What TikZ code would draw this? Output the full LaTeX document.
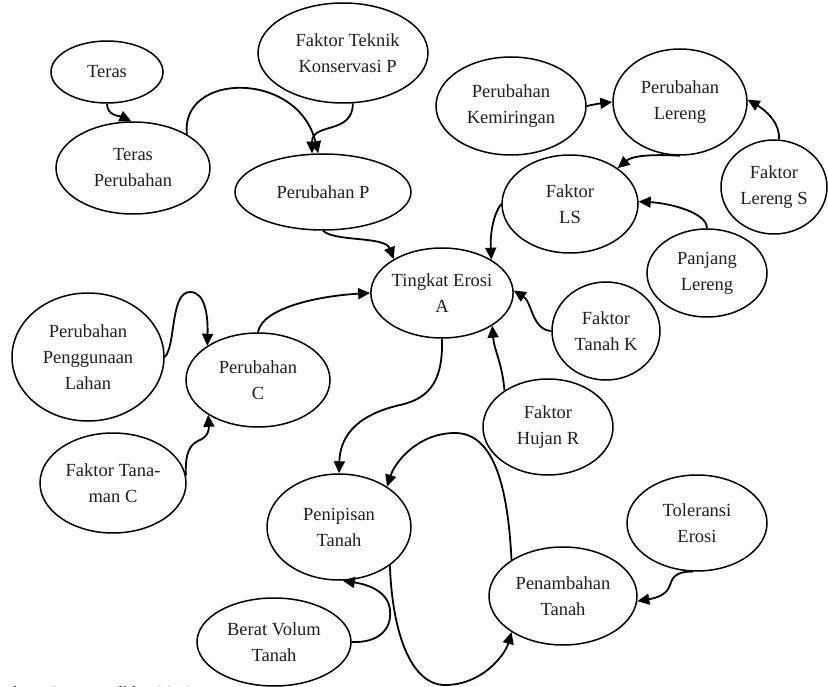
\documentclass[tikz,border=0pt]{standalone}
\usepackage{fontspec}
\setmainfont{Liberation Serif}
\usetikzlibrary{shapes.geometric,arrows.meta}
\tikzset{
  el/.style={ellipse, draw, line width=1.5pt, inner sep=0pt, align=center,
    font=\fontsize{18.5}{26}\selectfont, text=black!88},
  conn/.style={line width=1.8pt, -{Triangle[length=12pt,width=11pt]}},
}
\begin{document}
\begin{tikzpicture}[x=1pt,y=-1pt]
\useasboundingbox (0,0) rectangle (828,687);
% nodes
\node[el, minimum width=112pt, minimum height=62pt] (teras) at (107,72) {Teras};
\node[el, minimum width=154pt, minimum height=92pt] (tp) at (133,168) {Teras\\Perubahan};
\node[el, minimum width=170pt, minimum height=100pt] (ftkp) at (343,53) {\ \ Faktor Teknik\\\ \ Konservasi P};
\node[el, minimum width=176pt, minimum height=76pt] (pp) at (323,192) {Perubahan P};
\node[el, minimum width=150pt, minimum height=98pt] (pk) at (511,106) {Perubahan\\Kemiringan};
\node[el, minimum width=134pt, minimum height=106pt] (plr) at (680,102) {Perubahan\\Lereng};
\node[el, minimum width=136pt, minimum height=98pt] (fls) at (570,204) {Faktor\\LS};
\node[el, minimum width=106pt, minimum height=94pt] (flrs) at (774,187) {Faktor\\Lereng S};
\node[el, minimum width=120pt, minimum height=88pt] (pjl) at (707,273) {Panjang\\Lereng};
\node[el, minimum width=140pt, minimum height=90pt] (te) at (442,293) {Tingkat Erosi\\A};
\node[el, minimum width=108pt, minimum height=98pt] (ftk) at (606,331) {Faktor\\Tanah K};
\node[el, minimum width=130pt, minimum height=96pt] (fhr) at (548,427) {Faktor\\Hujan R};
\node[el, minimum width=152pt, minimum height=128pt] (ppl) at (88,357) {Perubahan\\Penggunaan\\Lahan};
\node[el, minimum width=144pt, minimum height=94pt] (pc) at (258,380) {Perubahan\\C};
\node[el, minimum width=146pt, minimum height=100pt] (ftc) at (113,483) {Faktor Tana-\\man C};
\node[el, minimum width=144pt, minimum height=106pt] (pt) at (339,527) {Penipisan\\Tanah};
\node[el, minimum width=140pt, minimum height=96pt] (tole) at (697,523) {Toleransi\\Erosi};
\node[el, minimum width=148pt, minimum height=98pt] (pnt) at (563,596) {Penambahan\\Tanah};
\node[el, minimum width=154pt, minimum height=88pt] (bvt) at (274,642) {Berat Volum\\Tanah};
% caption (cut off at the bottom edge, as in the reference)
\node[anchor=base west, font=\fontsize{18.5}{22}\selectfont, text=black!88] (cap) at (-24,699) {Sumber: Suryana dkk., 2016};
% connectors
\draw[conn] (teras.270) .. controls (107,116) and (120,116) .. (tp.92);
\draw[conn] (tp.32) .. controls (180,72) and (298,70) .. (pp.97);
\draw[conn] (ftkp.-79) .. controls (353,135) and (312,122) .. (pp.106);
\draw[conn] (pp.270) .. controls (335,242) and (385,236) .. (te.145);
\draw[conn] (fls.180) .. controls (494,213) and (490,232) .. (te.34);
\draw[conn] (pk.0) .. controls (596,104) and (603,103) .. (plr.180);
\draw[conn] (plr.270) .. controls (650,154) and (632,156) .. (fls.37);
\draw[conn] (flrs.84) .. controls (780,122) and (765,110) .. (plr.2);
\draw[conn] (pjl.90) .. controls (707,212) and (668,203) .. (fls.2);
\draw[conn] (ftk.180) .. controls (532,330) and (532,302) .. (te.2);
\draw[conn] (fhr.140) .. controls (502,362) and (494,350) .. (te.-33);
\draw[conn] (pc.90) .. controls (262,308) and (318,296) .. (te.180);
\draw[conn] (ppl.0) .. controls (176,346) and (170,292) .. (190,292)
  .. controls (206,292) and (208,318) .. (pc.146);
\draw[conn] (ftc.6) .. controls (185,452) and (190,444) .. (200,440)
  .. controls (209,436) and (209,428) .. (pc.215);
\draw[conn] (te.270) .. controls (443,378) and (432,398) .. (400,405)
  .. controls (352,416) and (340,440) .. (pt.90);
\draw[conn] (pt.-37) .. controls (392,630) and (410,685) .. (445,685)
  .. controls (482,685) and (505,655) .. (pnt.215);
\draw[conn] (pnt.145) .. controls (508,490) and (495,433) .. (455,433)
  .. controls (418,433) and (395,462) .. (pt.40);
\draw[conn] (bvt.0) .. controls (378,643) and (392,630) .. (390,610)
  .. controls (388,590) and (365,584) .. (pt.-86);
\draw[conn] (tole.265) .. controls (676,571) and (672,578) .. (670,585)
  .. controls (667,595) and (656,598) .. (pnt.-4);
\end{tikzpicture}
\end{document}
